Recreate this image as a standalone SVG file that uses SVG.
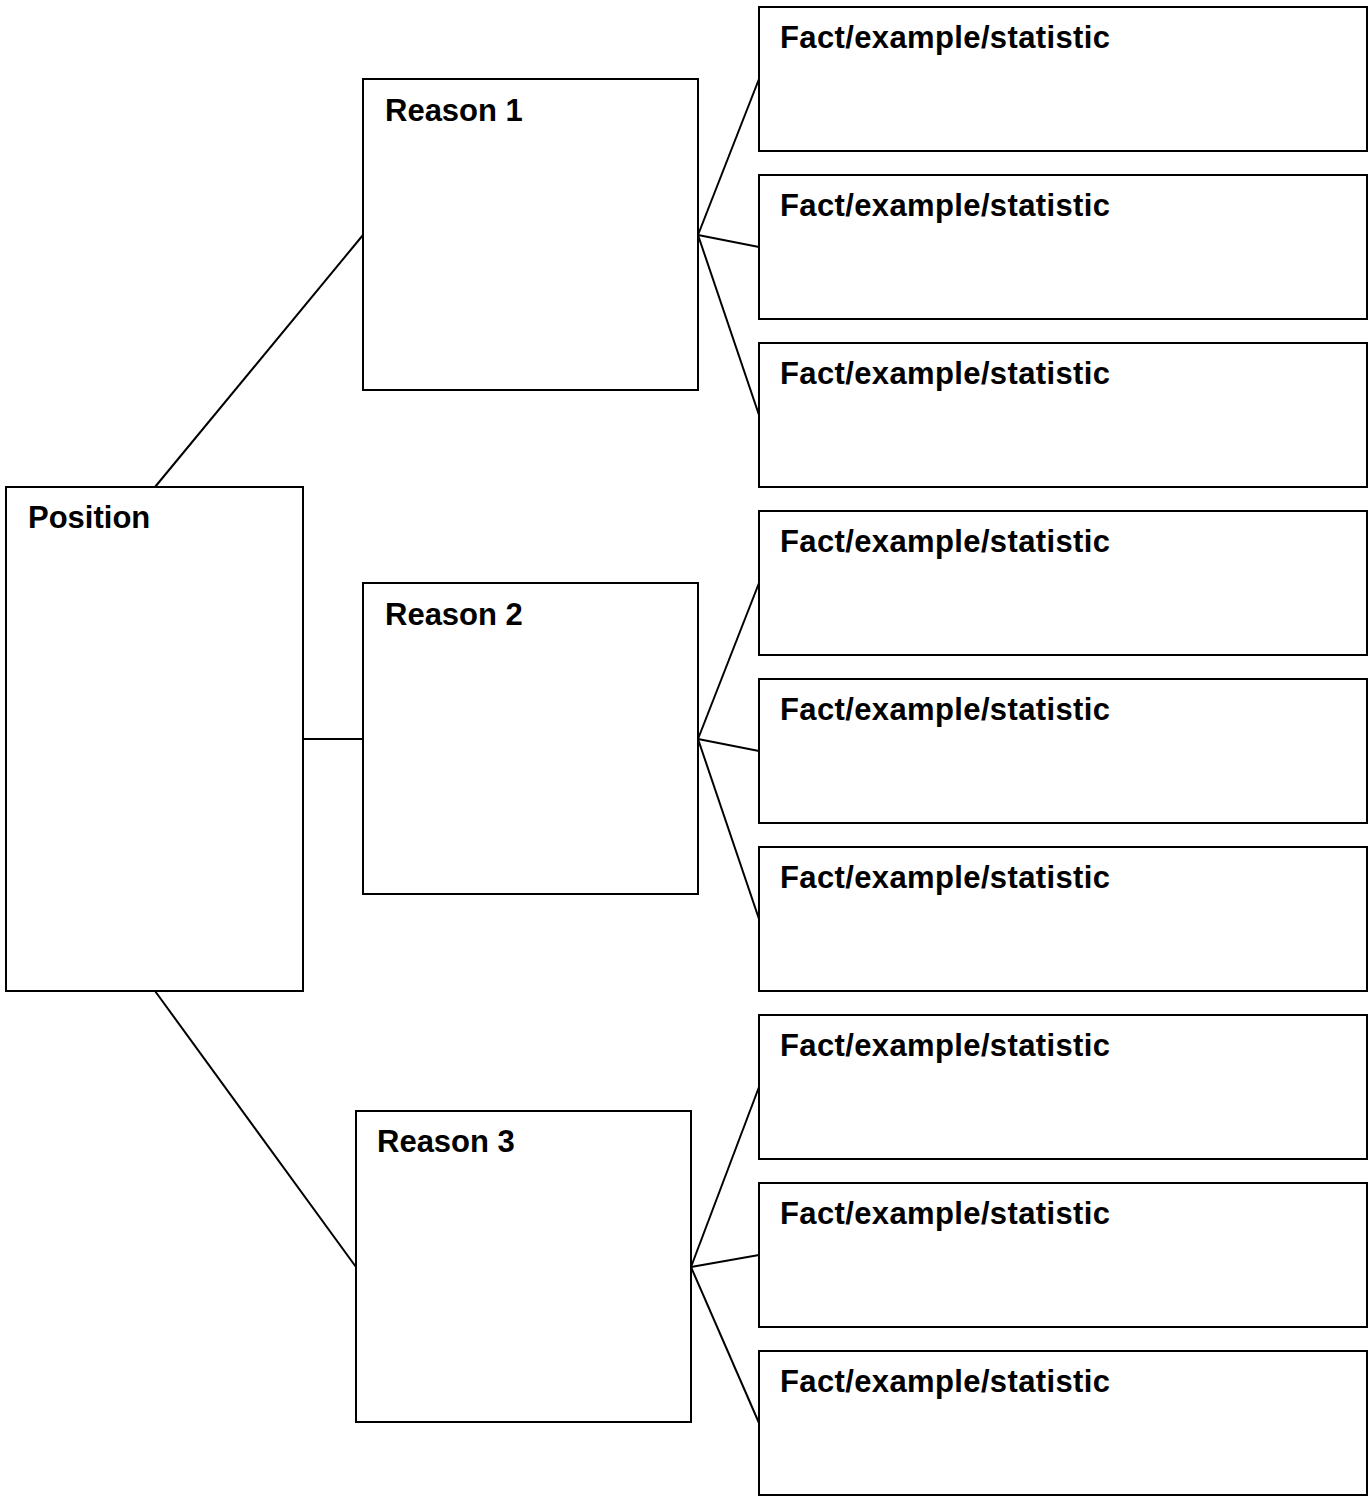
<svg xmlns="http://www.w3.org/2000/svg" width="1372" height="1501" viewBox="0 0 1372 1501">
<style>
.box{fill:#fff;stroke:#000;stroke-width:2}
.lbl{font-family:"Liberation Sans",Arial,sans-serif;font-weight:bold;font-size:31px;fill:#000}
.con line{stroke:#000;stroke-width:2}
</style>
<rect width="1372" height="1501" fill="#fff"/>
<g class="con" id="connectors">
<line x1="155" y1="487" x2="363" y2="235"/>
<line x1="303" y1="739" x2="363" y2="739"/>
<line x1="155" y1="991" x2="356" y2="1267"/>
<line x1="698" y1="235" x2="759" y2="79"/>
<line x1="698" y1="235" x2="759" y2="247"/>
<line x1="698" y1="235" x2="759" y2="415"/>
<line x1="698" y1="739" x2="759" y2="583"/>
<line x1="698" y1="739" x2="759" y2="751"/>
<line x1="698" y1="739" x2="759" y2="919"/>
<line x1="691" y1="1267" x2="759" y2="1087"/>
<line x1="691" y1="1267" x2="759" y2="1255"/>
<line x1="691" y1="1267" x2="759" y2="1423"/>
</g>
<g id="position"><rect class="box" x="6" y="487" width="297" height="504"/><text class="lbl" x="28" y="528">Position</text></g>
<g id="reason1"><rect class="box" x="363" y="79" width="335" height="311"/><text class="lbl" x="385" y="121">Reason 1</text></g>
<g id="reason2"><rect class="box" x="363" y="583" width="335" height="311"/><text class="lbl" x="385" y="625">Reason 2</text></g>
<g id="reason3"><rect class="box" x="356" y="1111" width="335" height="311"/><text class="lbl" x="377" y="1152">Reason 3</text></g>
<g id="fact1"><rect class="box" x="759" y="7" width="608" height="144"/><text class="lbl" x="780" y="48" textLength="330">Fact/example/statistic</text></g>
<g id="fact2"><rect class="box" x="759" y="175" width="608" height="144"/><text class="lbl" x="780" y="216" textLength="330">Fact/example/statistic</text></g>
<g id="fact3"><rect class="box" x="759" y="343" width="608" height="144"/><text class="lbl" x="780" y="384" textLength="330">Fact/example/statistic</text></g>
<g id="fact4"><rect class="box" x="759" y="511" width="608" height="144"/><text class="lbl" x="780" y="552" textLength="330">Fact/example/statistic</text></g>
<g id="fact5"><rect class="box" x="759" y="679" width="608" height="144"/><text class="lbl" x="780" y="720" textLength="330">Fact/example/statistic</text></g>
<g id="fact6"><rect class="box" x="759" y="847" width="608" height="144"/><text class="lbl" x="780" y="888" textLength="330">Fact/example/statistic</text></g>
<g id="fact7"><rect class="box" x="759" y="1015" width="608" height="144"/><text class="lbl" x="780" y="1056" textLength="330">Fact/example/statistic</text></g>
<g id="fact8"><rect class="box" x="759" y="1183" width="608" height="144"/><text class="lbl" x="780" y="1224" textLength="330">Fact/example/statistic</text></g>
<g id="fact9"><rect class="box" x="759" y="1351" width="608" height="144"/><text class="lbl" x="780" y="1392" textLength="330">Fact/example/statistic</text></g>
</svg>
